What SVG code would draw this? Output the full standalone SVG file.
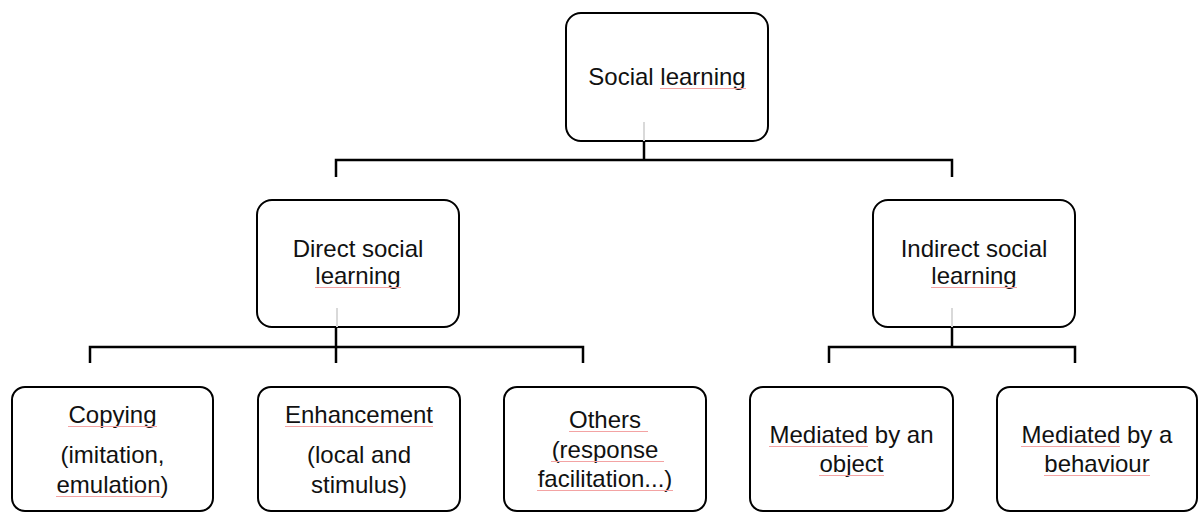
<svg xmlns="http://www.w3.org/2000/svg" width="1198" height="514" viewBox="0 0 1198 514">
<style>
.box{fill:#fff;stroke:#000;stroke-width:2}
.t{font-family:"Liberation Sans",Arial,sans-serif;font-size:24px;fill:#111;text-anchor:middle}
.c{stroke:#000;stroke-width:2.5;fill:none}
.g{stroke:#d9d9d9;stroke-width:2}
.sp{stroke:#f3a3a3;stroke-width:1}
</style>
<rect width="1198" height="514" fill="#fff"/>
<g id="n-social">
<rect class="box" x="566" y="13" width="202" height="128" rx="15"/>
<text class="t" x="667" y="85">Social learning</text>
<line class="sp" x1="660" y1="88.5" x2="746" y2="88.5"/>
<line class="g" x1="644" y1="122" x2="644" y2="141"/>
</g>
<g id="n-direct">
<rect class="box" x="257" y="200" width="202" height="127" rx="15"/>
<text class="t" x="358" y="257">Direct social</text>
<text class="t" x="358" y="284">learning</text>
<line class="sp" x1="315" y1="287.5" x2="401" y2="287.5"/>
<line class="g" x1="337" y1="308" x2="337" y2="327"/>
</g>
<g id="n-indirect">
<rect class="box" x="873" y="200" width="202" height="127" rx="15"/>
<text class="t" x="974" y="257">Indirect social</text>
<text class="t" x="974" y="284">learning</text>
<line class="sp" x1="931" y1="287.5" x2="1017" y2="287.5"/>
<line class="g" x1="952" y1="308" x2="952" y2="327"/>
</g>
<g id="n-copying">
<rect class="box" x="12" y="387" width="201" height="124" rx="13"/>
<text class="t" x="112.5" y="423">Copying</text>
<text class="t" x="112.5" y="463">(imitation,</text>
<text class="t" x="112.5" y="493">emulation)</text>
<line class="sp" x1="68" y1="426.5" x2="157" y2="426.5"/>
<line class="sp" x1="56" y1="496.5" x2="161" y2="496.5"/>
</g>
<g id="n-enhancement">
<rect class="box" x="258" y="387" width="202" height="124" rx="13"/>
<text class="t" x="359" y="423">Enhancement</text>
<text class="t" x="359" y="463">(local and</text>
<text class="t" x="359" y="493">stimulus)</text>
<line class="sp" x1="285" y1="426.5" x2="433" y2="426.5"/>
</g>
<g id="n-others">
<rect class="box" x="504" y="387" width="202" height="124" rx="13"/>
<text class="t" x="605" y="428">Others</text>
<text class="t" x="605" y="458">(response</text>
<text class="t" x="605" y="487">facilitation...)</text>
<line class="sp" x1="569" y1="431.5" x2="648" y2="431.5"/>
<line class="sp" x1="551" y1="461.5" x2="664" y2="461.5"/>
<line class="sp" x1="537" y1="490.5" x2="673" y2="490.5"/>
</g>
<g id="n-object">
<rect class="box" x="750" y="387" width="203" height="124" rx="13"/>
<text class="t" x="851.5" y="443">Mediated by an</text>
<text class="t" x="851.5" y="472">object</text>
<line class="sp" x1="769" y1="446.5" x2="868" y2="446.5"/>
<line class="sp" x1="819" y1="475.5" x2="884" y2="475.5"/>
</g>
<g id="n-behaviour">
<rect class="box" x="997" y="387" width="200" height="124" rx="13"/>
<text class="t" x="1097" y="443">Mediated by a</text>
<text class="t" x="1097" y="472">behaviour</text>
<line class="sp" x1="1021" y1="446.5" x2="1120" y2="446.5"/>
<line class="sp" x1="1044" y1="475.5" x2="1150" y2="475.5"/>
</g>
<g id="connectors">
<line class="c" x1="644" y1="141" x2="644" y2="160"/>
<path class="c" d="M336 177 V160 H952 V177"/>
<line class="c" x1="336" y1="327" x2="336" y2="363"/>
<path class="c" d="M90 363 V347 H583 V363"/>
<line class="c" x1="952" y1="327" x2="952" y2="347"/>
<path class="c" d="M829 363 V347 H1075 V363"/>
</g>
</svg>
